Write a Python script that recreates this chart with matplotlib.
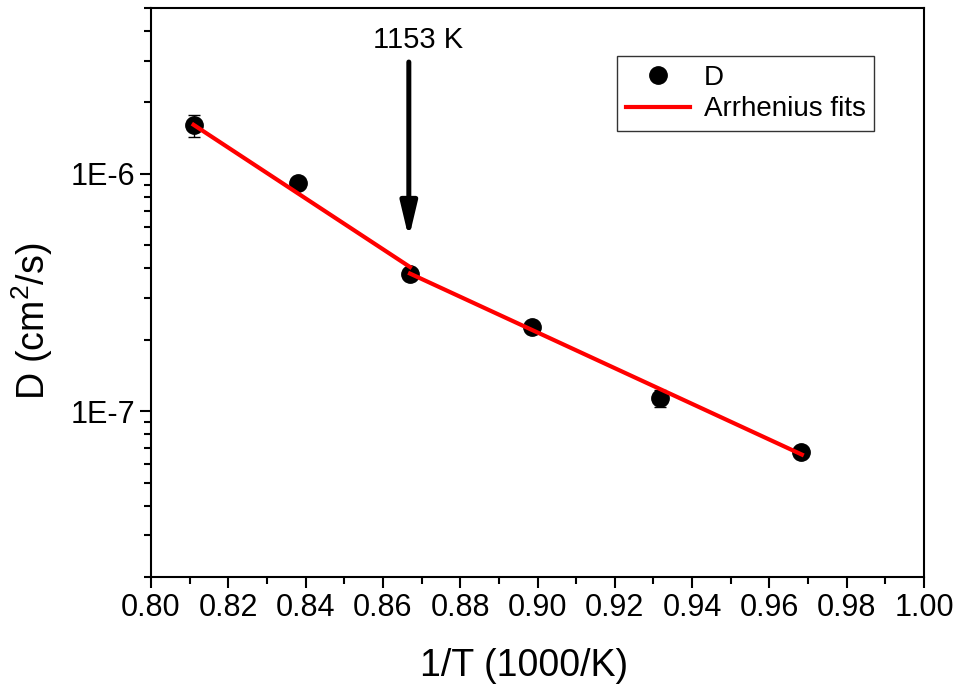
import numpy as np
import matplotlib.pyplot as plt
from matplotlib.ticker import FixedLocator, LogLocator, NullFormatter, MultipleLocator
from matplotlib.lines import Line2D

plt.rcParams['font.family'] = ['Liberation Sans', 'DejaVu Sans']
plt.rcParams['mathtext.fontset'] = 'custom'
plt.rcParams['mathtext.rm'] = 'Liberation Sans'

# measured diffusion coefficients
inv_T = [0.811, 0.838, 0.867, 0.8986, 0.9317, 0.9682]
D = [1.60e-6, 9.15e-7, 3.78e-7, 2.26e-7, 1.135e-7, 6.7e-8]
D_err = [1.7e-7, 0, 0, 0, 9e-9, 0]

# two Arrhenius segments, break at 1153 K
fit1_x = [0.811, 0.8670]
fit1_y = [1.61e-6, 4.05e-7]
fit2_x = [0.8670, 0.9684]
fit2_y = [3.80e-7, 6.56e-8]

fig = plt.figure(figsize=(9.59, 6.91), dpi=100)
ax = fig.add_axes([0.1575, 0.165, 0.806, 0.8234])

ax.errorbar(inv_T, D, yerr=D_err, fmt='o', color='black', ms=12.5,
            ecolor='black', elinewidth=1, capsize=4.5, capthick=1, zorder=3)
ax.plot(fit1_x, fit1_y, '-', color='red', lw=3, zorder=4)
ax.plot(fit2_x, fit2_y, '-', color='red', lw=3, zorder=4)

ax.annotate('', xy=(0.8667, 5.35e-7), xytext=(0.8667, 2.96e-6),
            arrowprops=dict(arrowstyle='-|>,head_width=0.5,head_length=2.1',
                            color='black', lw=3.6, shrinkA=0, shrinkB=0))
ax.text(0.869, 3.65e-6, '1153 K', ha='center', va='center', fontsize=21)

ax.set_yscale('log')
ax.set_xlim(0.80, 1.00)
ax.set_ylim(2e-8, 5e-6)

ax.xaxis.set_major_locator(MultipleLocator(0.02))
ax.xaxis.set_minor_locator(MultipleLocator(0.01))
ax.set_xticklabels([f'{v:.2f}' for v in ax.get_xticks()])
ax.yaxis.set_major_locator(FixedLocator([1e-7, 1e-6]))
ax.set_yticklabels(['1E-7', '1E-6'])
ax.yaxis.set_minor_locator(LogLocator(base=10, subs=np.arange(2, 10)))
ax.yaxis.set_minor_formatter(NullFormatter())

ax.tick_params(which='both', direction='out', top=False, right=False, width=1.5,
               labelsize=22)
ax.tick_params(which='major', length=8)
ax.tick_params(which='minor', length=5)
for s in ax.spines.values():
    s.set_linewidth(1.5)

ax.set_xlabel('1/T (1000/K)', fontsize=27)
ax.set_ylabel('D (cm$^{2}$/s)', fontsize=27)
ax.xaxis.set_label_coords(0.4825, -0.124)
ax.yaxis.set_label_coords(-0.124, 0.45)

handles = [Line2D([], [], ls='none', marker='o', color='black', ms=12.5),
           Line2D([], [], color='red', lw=3)]
leg = ax.legend(handles, ['D', 'Arrhenius fits'], loc='upper right',
                bbox_to_anchor=(0.935, 0.915), fontsize=20,
                frameon=True, fancybox=False, edgecolor='black',
                handlelength=2.3, borderpad=0.3, labelspacing=0.2,
                handletextpad=0.5, borderaxespad=0)
leg.get_frame().set_linewidth(1)

fig.savefig('out.png', dpi=100)
